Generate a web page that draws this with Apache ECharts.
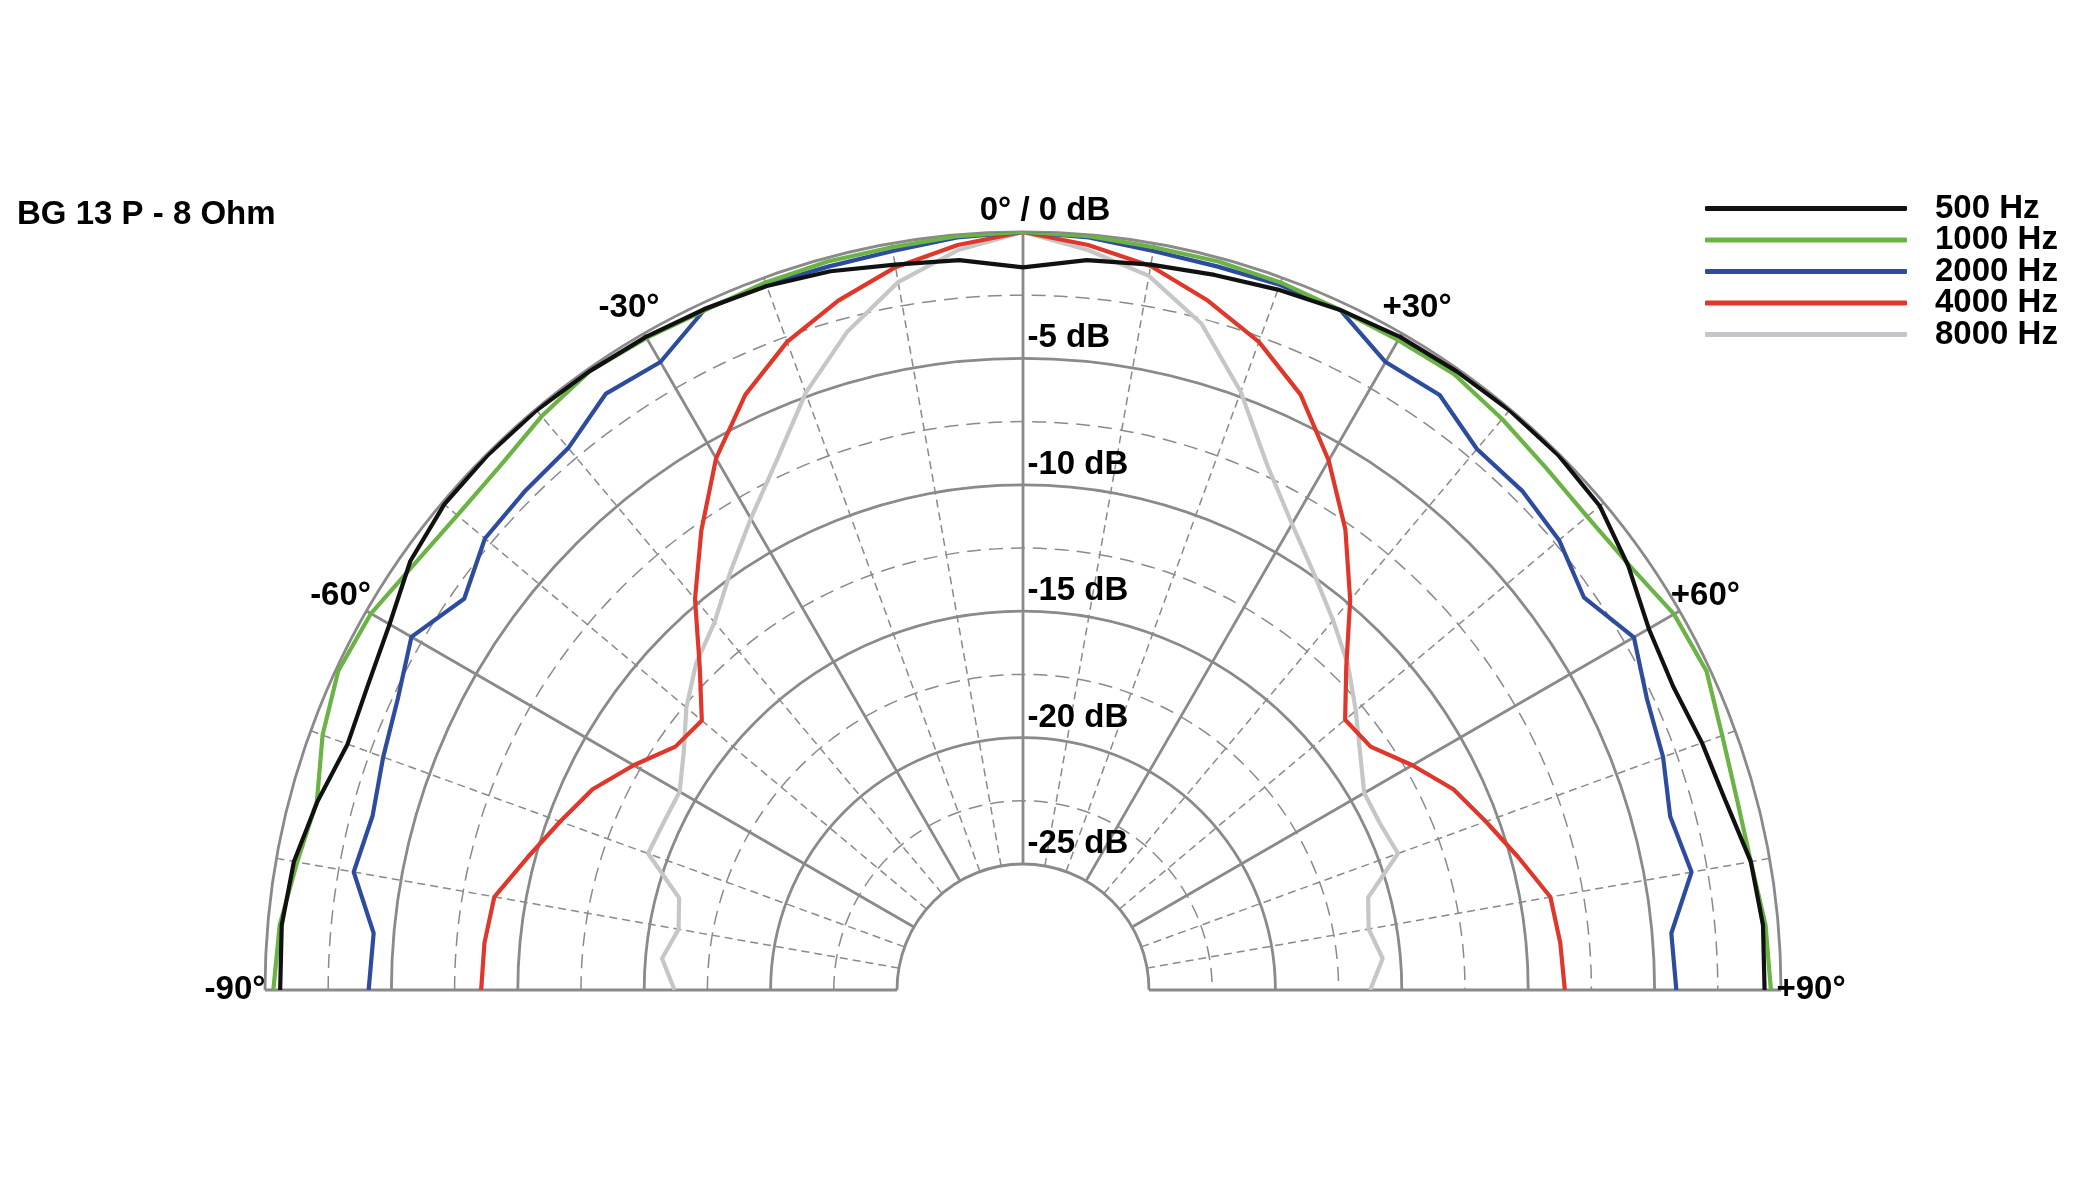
<!DOCTYPE html>
<html><head><meta charset="utf-8">
<script src="https://cdn.jsdelivr.net/npm/echarts@6/dist/echarts.min.js"></script>
<style>html,body{margin:0;padding:0;background:#fff}#c{width:2080px;height:1200px}</style>
</head><body><div id="c"></div>
<script>
// ---- data ----
const titleText = 'BG 13 P - 8 Ohm';
const angles = [-90,-85,-80,-75,-70,-65,-60,-55,-50,-45,-40,-35,-30,-25,-20,-15,-10,-5,0,5,10,15,20,25,30,35,40,45,50,55,60,65,70,75,80,85,90];
const hz500  = [-0.6,-0.55,-0.7,-1.1,-1.55,-1.4,-1.05,-0.4,-0.1,-0.05,-0.05,-0.1,-0.15,-0.25,-0.35,-0.55,-0.85,-1.0,-1.4,-1.0,-0.85,-0.7,-0.5,-0.3,-0.15,-0.1,-0.05,-0.05,-0.2,-0.75,-1.4,-1.6,-1.4,-1.2,-0.75,-0.6,-0.65];
const hz1000 = [-0.33,-0.47,-0.83,-1.07,-0.5,-0.1,-0.2,-0.6,-0.77,-0.7,-0.36,-0.1,-0.2,-0.3,-0.2,-0.15,-0.15,-0.05,0,-0.05,-0.15,-0.15,-0.2,-0.3,-0.3,-0.25,-0.5,-0.75,-0.85,-0.7,-0.25,-0.15,-0.55,-0.75,-0.75,-0.5,-0.4];
const hz2000 = [-4.1,-4.2,-3.1,-3.35,-3.05,-2.7,-2.05,-3.0,-2.2,-2.1,-2.0,-1.2,-1.3,-0.25,-0.3,-0.35,-0.3,-0.1,0,-0.1,-0.3,-0.35,-0.3,-0.3,-1.3,-1.25,-2.05,-2.06,-2.3,-2.9,-2.08,-2.75,-3.04,-3.48,-3.13,-4.24,-4.14];
const hz4000 = [-8.55,-8.6,-8.75,-9.7,-10.5,-11.2,-12.2,-13.2,-13.4,-11.9,-9.8,-7.8,-5.7,-4.0,-2.7,-1.75,-0.95,-0.4,0,-0.4,-0.9,-1.75,-2.7,-4.0,-5.8,-7.75,-9.85,-11.9,-13.35,-13.2,-12.2,-11.2,-10.5,-9.7,-8.8,-8.65,-8.55];
const hz8000 = [-16.2,-15.65,-16.15,-15.9,-14.2,-14.3,-14.3,-13.6,-12.6,-11.7,-11.0,-9.8,-8.45,-6.9,-4.85,-3.05,-1.55,-0.6,0,-0.6,-1.3,-2.7,-4.8,-7.1,-8.7,-9.9,-10.9,-11.8,-12.8,-13.7,-14.4,-14.4,-14.2,-15.85,-16.1,-15.7,-16.25];
const seriesNames = ['500 Hz','1000 Hz','2000 Hz','4000 Hz','8000 Hz'];
const dbTicks = [-5,-10,-15,-20,-25];
const dbTickLabels = ['-5 dB','-10 dB','-15 dB','-20 dB','-25 dB'];
const angleTicks = [-90,-60,-30,30,60,90];
const angleTickLabels = ['-90°','-60°','-30°','+30°','+60°','+90°'];
const topLabel = '0° / 0 dB';

// ---- styles ----
const FONT = "'Liberation Sans', Arial, Helvetica, sans-serif";
const GRID = '#8a8a8a';
const colors = {'500 Hz':'#111111','1000 Hz':'#6ab344','2000 Hz':'#2d4c9e','4000 Hz':'#e0372b','8000 Hz':'#c6c6c6'};
const valuesByName = {'500 Hz':hz500,'1000 Hz':hz1000,'2000 Hz':hz2000,'4000 Hz':hz4000,'8000 Hz':hz8000};
const CENTER = [1023, 990];
const RADIUS = [126, 758];
const txt = {fontSize:33, fontWeight:'bold', color:'#000', fontFamily:FONT, opacity:1, textBorderWidth:0};

const drawOrder = ['8000 Hz','4000 Hz','2000 Hz','1000 Hz','500 Hz'];
const lineSeries = drawOrder.map(name => ({
  name, type:'line', coordinateSystem:'polar', polarIndex:0,
  showSymbol:false, symbol:'none', smooth:false, z:5,
  lineStyle:{color:colors[name], width:4.2},
  itemStyle:{color:colors[name]},
  data: angles.map((a,i)=>[valuesByName[name][i], a])
}));

const rad = d => d*Math.PI/180;
const labelSeries = {
  type:'scatter', coordinateSystem:'polar', polarIndex:0, symbolSize:1, silent:true, z:6,
  itemStyle:{opacity:0},
  data: [
    ...dbTicks.map((v,i)=>({value:[v,0], name:dbTickLabels[i], label:{position:'right', distance:4, offset:[0,-20]}})),
    ...angleTicks.map((a,i)=>({value:[0,a], name:angleTickLabels[i], label:{position:'inside', offset:[30*Math.sin(rad(a)), -30*Math.cos(rad(a))]}})),
    {value:[0,0], name:topLabel, label:{position:'inside', offset:[22,-21]}}
  ],
  label:{show:true, formatter:p=>p.name, ...txt}
};

const hidden = {axisLine:{show:false}, axisTick:{show:false}, axisLabel:{show:false}};
const option = {
  backgroundColor:'#fff', animation:false,
  title:{text:titleText, left:17, top:198, padding:0, textStyle:txt},
  legend:{orient:'vertical', left:1705, top:192, padding:0, itemWidth:202, itemHeight:5, itemGap:-1.5, icon:'roundRect',
    data:seriesNames, textStyle:{...txt, padding:[0,0,0,23]}},
  polar:[{center:CENTER, radius:RADIUS},{center:CENTER, radius:RADIUS}],
  angleAxis:[
    {polarIndex:0, type:'value', min:-90, max:90, interval:10, startAngle:180, endAngle:0, clockwise:true, ...hidden,
      splitLine:{show:true, lineStyle:{color:GRID, width:1.5, type:[8,5]}}},
    {polarIndex:1, type:'value', min:-90, max:90, interval:30, startAngle:180, endAngle:0, clockwise:true, ...hidden, z:1,
      splitLine:{show:true, lineStyle:{color:GRID, width:2.8}}}
  ],
  radiusAxis:[
    {polarIndex:0, type:'value', min:-25, max:0, interval:2.5, ...hidden,
      splitLine:{show:true, lineStyle:{color:GRID, width:1.5, type:[14,8]}}},
    {polarIndex:1, type:'value', min:-25, max:0, interval:5, ...hidden, z:1,
      splitLine:{show:true, lineStyle:{color:GRID, width:2.8}}}
  ],
  series:[...lineSeries, labelSeries]
};
const chart = echarts.init(document.getElementById('c'), null, {renderer:'canvas'});
chart.setOption(option);
</script>
</body></html>
